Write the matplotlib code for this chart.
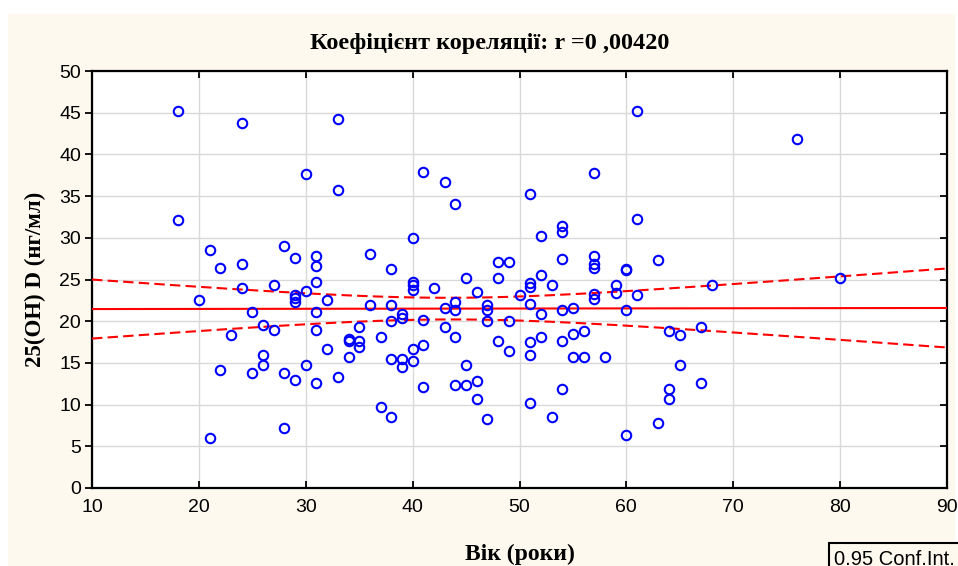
import numpy as np
import matplotlib
matplotlib.use("Agg")
import matplotlib.pyplot as plt
from matplotlib.patches import Rectangle

# вік пацієнтів (роки) та рівень 25(OH)D (нг/мл)
vik = [18, 18, 20, 21, 21, 22, 22, 23, 24, 24, 24, 25, 25,
       26, 26, 26, 27, 27, 28, 28, 28, 29, 29, 29, 29, 29,
       30, 30, 30, 31, 31, 31, 31, 31, 31, 32, 32, 33, 33, 33,
       34, 34, 34, 35, 35, 35, 36, 36, 37, 37,
       38, 38, 38, 38, 38, 39, 39, 39, 39,
       40, 40, 40, 40, 40, 40, 41, 41, 41, 41, 42,
       43, 43, 43, 44, 44, 44, 44, 44, 45, 45, 45,
       46, 46, 46, 47, 47, 47, 47, 48, 48, 48, 49, 49, 49, 50,
       51, 51, 51, 51, 51, 51, 51, 52, 52, 52, 52, 53, 53,
       54, 54, 54, 54, 54, 54, 55, 55, 55, 56, 56,
       57, 57, 57, 57, 57, 57, 58, 59, 59, 60, 60, 60, 60,
       61, 61, 61, 63, 63, 64, 64, 64, 65, 65, 67, 67, 68, 76, 80]
vitd = [45.2, 32.1, 22.6, 28.5, 6.0, 26.4, 14.2, 18.3, 43.8, 26.9, 24.0, 21.1, 13.8,
        19.5, 15.9, 14.7, 24.3, 19.0, 29.0, 13.8, 7.2, 27.6, 23.2, 22.8, 22.3, 13.0,
        37.6, 23.6, 14.7, 27.8, 26.6, 24.7, 21.1, 19.0, 12.6, 22.6, 16.7, 44.2, 35.7, 13.3,
        17.9, 17.6, 15.7, 19.3, 17.6, 16.9, 28.1, 21.9, 18.1, 9.7,
        26.2, 21.9, 20.0, 15.5, 8.5, 20.9, 20.4, 15.5, 14.5,
        30.0, 24.7, 24.4, 23.8, 16.7, 15.2, 37.9, 20.2, 17.1, 12.1, 24.0,
        36.7, 21.6, 19.3, 34.1, 22.3, 21.4, 18.1, 12.4, 25.2, 14.7, 12.4,
        23.5, 12.8, 10.7, 21.9, 21.4, 20.0, 8.3, 27.1, 25.2, 17.6, 27.1, 20.0, 16.4, 23.1,
        35.2, 24.6, 24.1, 22.1, 17.5, 15.9, 10.2, 30.2, 25.5, 20.9, 18.1, 24.3, 8.5,
        31.4, 30.7, 27.4, 21.4, 17.6, 11.9, 21.6, 18.5, 15.7, 18.8, 15.7,
        37.8, 27.8, 26.9, 26.4, 23.3, 22.7, 15.7, 24.3, 23.4, 26.3, 26.1, 21.4, 6.4,
        45.2, 32.3, 23.1, 27.3, 7.8, 18.8, 11.9, 10.7, 18.3, 14.7, 19.3, 12.6, 24.3, 41.8, 25.2]

# коефіцієнти регресійної прямої: y = a + b*x
reg_a = 21.44
reg_b = 0.0016

x_ticks = [10, 20, 30, 40, 50, 60, 70, 80, 90]
y_ticks = [0, 5, 10, 15, 20, 25, 30, 35, 40, 45, 50]

x = np.array(vik, dtype=float)
y = np.array(vitd, dtype=float)
n = len(x)

# 95% довірчий інтервал для середнього
resid = y - (reg_a + reg_b * x)
s = np.sqrt(np.sum(resid ** 2) / (n - 2))
sxx = np.sum((x - x.mean()) ** 2)
t_krit = 1.9765
xx = np.linspace(10, 90, 200)
yy = reg_a + reg_b * xx
half = t_krit * s * np.sqrt(1.0 / n + (xx - x.mean()) ** 2 / sxx)

serif = "Liberation Serif"
sans = "Liberation Sans"
krem = "#fdf9ee"

fig = plt.figure(figsize=(9.58, 5.66), dpi=100)
fig.patch.set_facecolor("white")
fig.patches.append(Rectangle((8 / 958, 0), 947 / 958, 552 / 566,
                             transform=fig.transFigure, facecolor=krem,
                             edgecolor="none", zorder=-10))

ax = fig.add_axes([92 / 958, 78 / 566, 855 / 958, 417 / 566])
ax.set_facecolor("white")

ax.plot(xx, yy, color="red", lw=1.5, zorder=3)
ax.plot(xx, yy + half, color="red", lw=1.5, ls=(0, (5, 2.5)), zorder=3)
ax.plot(xx, yy - half, color="red", lw=1.5, ls=(0, (5, 2.5)), zorder=3)
ax.plot(x, y, ls="none", marker="o", markersize=6.8, markerfacecolor="none",
        markeredgecolor="#0000ff", markeredgewidth=1.5, zorder=4)

ax.set_xlim(10, 90)
ax.set_ylim(0, 50)
ax.set_xticks(x_ticks)
ax.set_yticks(y_ticks)
ax.grid(True, color="#d9d9d9", lw=1.0, zorder=0)
ax.set_axisbelow(True)
for sp in ax.spines.values():
    sp.set_linewidth(1.6)
    sp.set_color("black")

ax.tick_params(axis="both", labelsize=14, width=1.3, length=5, colors="black",
               labelfontfamily=sans)
ax.tick_params(axis="y", direction="out", pad=3)
ax.tick_params(axis="x", direction="in", top=True, pad=8)

# праві засічки всередину, без підписів
ax_r = ax.twinx()
ax_r.set_ylim(ax.get_ylim())
ax_r.set_yticks(y_ticks)
ax_r.tick_params(axis="y", direction="in", width=1.3, length=5, labelright=False)
for sp in ax_r.spines.values():
    sp.set_visible(False)

fig.text(490 / 958, (566 - 44) / 566, "Коефіцієнт кореляції: r =0 ,00420",
         fontfamily=serif, fontweight="bold", fontsize=17.5,
         ha="center", va="center")
ax.set_xlabel("Вік (роки)", fontfamily=serif, fontweight="bold", fontsize=17,
              labelpad=20)
ax.set_ylabel("25(OH) D (нг/мл)", fontfamily=serif, fontweight="bold",
              fontsize=16.5, labelpad=9)

# рамка легенди довірчого інтервалу
fig.patches.append(Rectangle((829 / 958, -0.05), 0.2, (566 - 543) / 566 + 0.05,
                             transform=fig.transFigure, facecolor=krem,
                             edgecolor="black", lw=1.5, zorder=5))
fig.text(834 / 958, (566 - 550) / 566, "0.95 Conf.Int.", fontfamily=sans,
         fontsize=14.5, va="top", ha="left", zorder=6)

fig.savefig("out.png", dpi=100)
